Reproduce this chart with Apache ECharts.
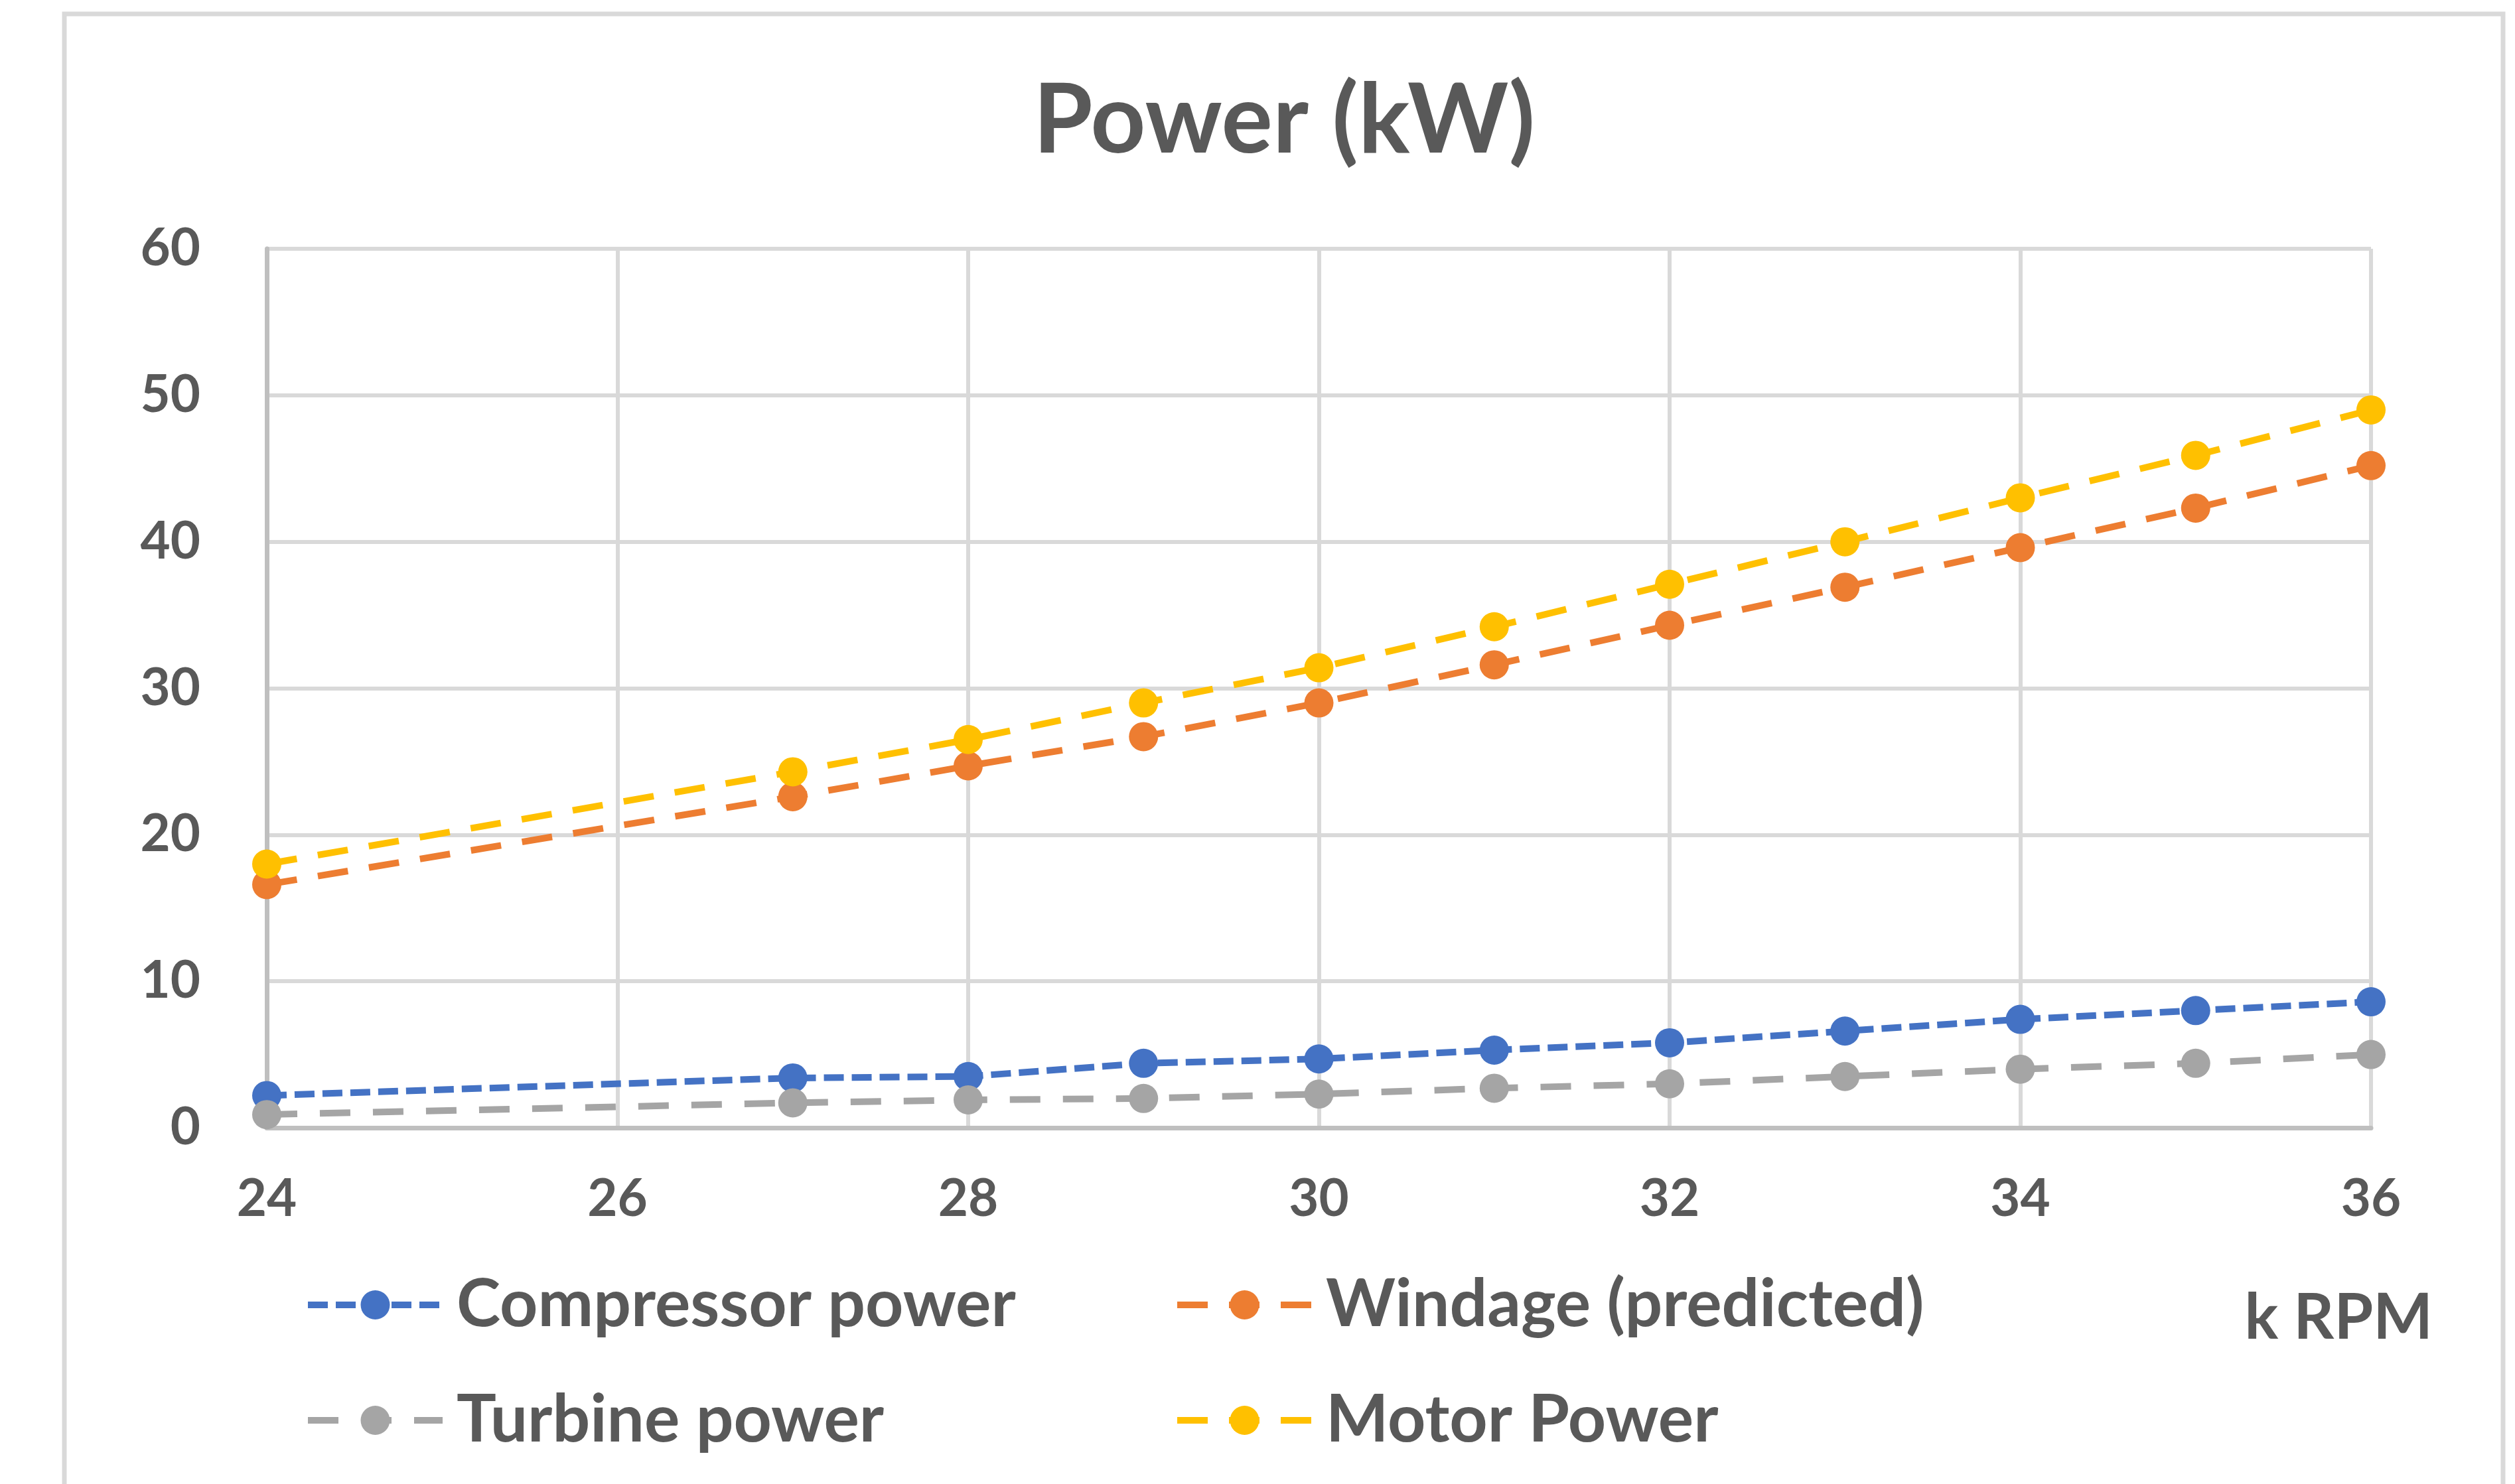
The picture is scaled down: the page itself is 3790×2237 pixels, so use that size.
<!DOCTYPE html>
<html>
<head>
<meta charset="utf-8">
<script src="https://cdn.jsdelivr.net/npm/echarts@6/dist/echarts.min.js"></script>
<style>
  html, body { margin: 0; padding: 0; background: #ffffff; }
  #chart { width: 3790px; height: 2237px; }
</style>
</head>
<body>
<div id="chart"></div>
<script>
// ---- Data ----
const titleText = 'Power (kW)';
const xAxisName = 'k RPM';
const rpm        = [24, 27, 28, 29, 30, 31, 32, 33, 34, 35, 36];
const compressor = [2.2, 3.4, 3.5, 4.4, 4.7, 5.3, 5.8, 6.6, 7.4, 8.0, 8.6];
const windage    = [16.6, 22.6, 24.7, 26.7, 29.0, 31.6, 34.3, 36.9, 39.6, 42.3, 45.2];
const turbine    = [0.9, 1.7, 1.9, 2.0, 2.3, 2.7, 3.0, 3.5, 4.0, 4.4, 5.0];
const motor      = [18.0, 24.3, 26.5, 29.0, 31.4, 34.2, 37.1, 40.0, 43.0, 45.9, 49.0];
const seriesNames = ['Compressor power', 'Windage (predicted)', 'Turbine power', 'Motor Power'];

const FONT = 'Lato';
const TEXT = '#595959';

function pairs(xs, ys) { return xs.map((x, i) => [x, ys[i]]); }

function lineSeries(name, ys, color, dash) {
  return {
    name: name,
    type: 'line',
    data: pairs(rpm, ys),
    symbol: 'circle',
    symbolSize: 44,
    showSymbol: true,
    itemStyle: { color: color, borderWidth: 0 },
    lineStyle: { color: color, width: 10, type: dash },
    emphasis: { disabled: true }
  };
}

const chart = echarts.init(document.getElementById('chart'), null, { renderer: 'canvas' });

const legendText = { fontFamily: FONT, fontWeight: 'bold', fontSize: 100, color: TEXT, lineHeight: 100, padding: [0, 0, 0, 16] };
const legendCommon = {
  orient: 'vertical',
  top: 1917,
  itemWidth: 203, itemHeight: 55,
  itemGap: 74,
  padding: 0,
  lineStyle: { width: 10, type: 'inherit', color: 'inherit' },
  textStyle: legendText
};

chart.setOption({
  animation: false,
  backgroundColor: '#ffffff',
  graphic: [{
    type: 'rect',
    shape: { x: 97, y: 21, width: 3675, height: 2400 },
    style: { fill: 'none', stroke: '#d9d9d9', lineWidth: 7 },
    silent: true,
    z: -10
  }],
  title: {
    text: titleText,
    left: 1552,
    top: 106,
    textStyle: { fontFamily: FONT, fontWeight: 'bold', fontSize: 145, color: TEXT }
  },
  grid: { left: 402, right: 217, top: 375, bottom: 537, containLabel: false, outerBoundsMode: 'none' },
  xAxis: {
    type: 'value',
    min: 24, max: 36, interval: 2,
    name: xAxisName,
    nameLocation: 'end',
    nameGap: 93,
    nameMoveOverlap: false,
    nameTextStyle: { fontFamily: FONT, fontWeight: 'bold', fontSize: 95, color: TEXT, align: 'right', verticalAlign: 'top', lineHeight: 95, padding: [240, 0, 0, 0] },
    axisLine: { show: true, lineStyle: { color: '#bfbfbf', width: 7 } },
    axisTick: { show: false },
    splitLine: { show: true, lineStyle: { color: '#d9d9d9', width: 6 } },
    axisLabel: { fontFamily: FONT, fontWeight: 'bold', fontSize: 78, lineHeight: 78, color: TEXT, margin: 69 }
  },
  yAxis: {
    type: 'value',
    min: 0, max: 60, interval: 10,
    axisLine: { show: true, lineStyle: { color: '#bfbfbf', width: 7 } },
    axisTick: { show: false },
    splitLine: { show: true, lineStyle: { color: '#d9d9d9', width: 6 } },
    axisLabel: { fontFamily: FONT, fontWeight: 'bold', fontSize: 78, color: TEXT, margin: 100 }
  },
  legend: [
    Object.assign({ data: [seriesNames[0], seriesNames[2]], left: 459 }, legendCommon),
    Object.assign({ data: [seriesNames[1], seriesNames[3]], left: 1769 }, legendCommon)
  ],
  series: [
    lineSeries(seriesNames[0], compressor, '#4472C4', [30, 12]),
    lineSeries(seriesNames[1], windage, '#ED7D31', [46, 32]),
    lineSeries(seriesNames[2], turbine, '#A5A5A5', [46, 34]),
    lineSeries(seriesNames[3], motor, '#FFC000', [46, 32])
  ]
});
</script>
</body>
</html>
